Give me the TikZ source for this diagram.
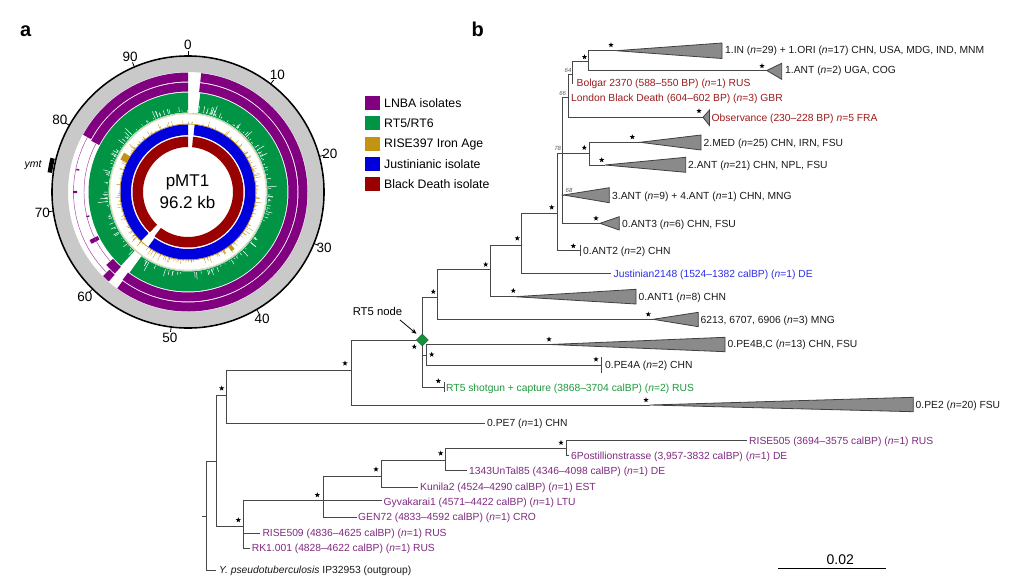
\documentclass[tikz,border=0pt]{standalone}
\usepackage{fontspec}
\setmainfont{Liberation Sans}
\usetikzlibrary{shapes.geometric,arrows.meta}
\definecolor{lnba}{HTML}{800080}
\definecolor{rtg}{HTML}{009444}
\definecolor{ironage}{HTML}{C39412}
\definecolor{just}{HTML}{0000DD}
\definecolor{bdc}{HTML}{990000}
\definecolor{ringgray}{HTML}{C9C9C9}
\definecolor{trigray}{HTML}{8A8A8A}
\definecolor{labred}{HTML}{9B1C1C}
\definecolor{labblue}{HTML}{2E2EE6}
\definecolor{labgreen}{HTML}{1F9A3E}
\definecolor{labpurp}{HTML}{7F2A7F}
\definecolor{rtdia}{HTML}{14903C}
\newcommand\nI{\textit{n}}
\newcommand\ringseg[5]{%
 \pgfmathsetmacro\aA{90-(#2)*3.742204}%
 \pgfmathsetmacro\aB{90-(#3)*3.742204}%
 \fill[#1] (\aA:#4) arc[start angle=\aA,end angle=\aB,radius=#4] -- (\aB:#5) arc[start angle=\aB,end angle=\aA,radius=#5] -- cycle;}
\newcommand\ringarc[4]{%
 \pgfmathsetmacro\aA{90-(#2)*3.742204}%
 \pgfmathsetmacro\aB{90-(#3)*3.742204}%
 \draw[#1] (\aA:#4) arc[start angle=\aA,end angle=\aB,radius=#4];}
\begin{document}
\begin{tikzpicture}[x=1pt,y=-1pt,
  br/.style={draw=black!72, line width=1pt},
  tri/.style={fill=trigray, draw=black!75, line width=0.8pt, line join=miter},
  lbl/.style={anchor=base west, inner sep=0pt, font=\fontsize{10.3}{12}\selectfont, yshift=-3.6pt, text=black!90},
  starmark/.style={star, star points=5, star point ratio=2.4, fill=black, inner sep=0pt, minimum size=5.5pt},
  boot/.style={inner sep=0pt, font=\fontsize{6}{7}\selectfont\itshape, text=black!65},
  legsq/.style={minimum width=15pt, minimum height=14pt, inner sep=0pt},
  leglbl/.style={anchor=base west, inner sep=0pt, font=\fontsize{12.3}{14}\selectfont, yshift=-4.4pt},
  panel/.style={anchor=base west, inner sep=0pt, font=\fontsize{20}{22}\selectfont\bfseries},
]
\fill[white] (0,0) rectangle (1020,581);
\useasboundingbox (0,0) rectangle (1020,581);

\node[panel] (pa) at (20,36.7) {a};
\node[panel] (pb) at (471.5,36.7) {b};

% ---------------- panel a: circular plot
\begin{scope}[shift={(188,192)}, y=1pt]
 \fill[ringgray, even odd rule] (0,0) circle[radius=135] (0,0) circle[radius=120];
 \draw[line width=1.6pt] (0,0) circle[radius=136];
 \foreach \k in {0,10,...,90} {
   \pgfmathsetmacro\ta{90-\k*3.742204}
   \draw[line width=0.8pt] (\ta:136) -- (\ta:141);
   \node[font=\fontsize{13.5}{15}\selectfont, inner sep=0pt] (tk\k) at (\ta:147) {\k};
 }
 % ymt marker
 \draw[line width=4.5pt] (166:139.5) arc[start angle=166, end angle=172, radius=139.5];
 % LNBA rings
 \ringseg{lnba}{1.7}{57.8}{110.5}{119.5}
 \ringseg{lnba}{59.2}{60.2}{110.5}{119.5}
 \ringseg{lnba}{79.8}{96.2}{110.5}{119.5}
 \ringseg{lnba}{1.7}{57.9}{100.5}{109.5}
 \ringseg{lnba}{59.3}{61.0}{100.5}{109.5}
 \ringseg{lnba}{64.6}{65.2}{100.5}{109.5}
 \ringseg{lnba}{79.6}{96.2}{100.5}{109.5}
 \ringarc{lnba!75, line width=0.45pt}{60.2}{79.8}{114.5}
 \ringarc{lnba!75, line width=0.45pt}{61.0}{79.6}{104}
 \ringseg{lnba}{72.0}{72.3}{111}{115}
 \ringseg{lnba}{68.4}{68.6}{101.5}{104.5}
 \ringseg{lnba}{75.1}{75.3}{111}{114}
 % RT5/RT6 ring
 \ringseg{rtg}{1.9}{57.7}{79.5}{99.5}
 \ringseg{rtg}{59.4}{96.2}{79.5}{99.5}
 \pgfmathsetseed{42}
 \foreach \i in {1,...,230} {
   \pgfmathsetmacro\ang{rnd*360}
   \pgfmathsetmacro\len{80.5+11*rnd*rnd}
   \draw[white, line width=0.5pt] (\ang:80.5) -- (\ang:\len);
 }
 \draw[rtg!55, line width=0.4pt] (0,0) circle[radius=78.8];
 % RISE397 histogram
 \draw[ironage!40, line width=0.5pt] (0,0) circle[radius=78];
 \foreach \i in {1,...,320} {
   \pgfmathsetmacro\ang{rnd*360}
   \pgfmathsetmacro\len{67.5+8.5*rnd*rnd}
   \draw[ironage, line width=0.32pt] (\ang:67.5) -- (\ang:\len);
 }
 \draw[ironage, line width=0.6pt] (0,0) circle[radius=68];
 \ringseg{ironage}{79.0}{80.6}{67.5}{75}
 \ringseg{ironage}{37.6}{38.4}{67.5}{73.5}
 % Justinianic ring
 \ringseg{just}{1.5}{57.7}{57}{67.5}
 \ringseg{just}{59.8}{96.2}{57}{67.5}
 % Black Death ring
 \ringseg{bdc}{1.4}{58.0}{45}{55.5}
 \ringseg{bdc}{59.7}{96.2}{45}{55.5}
\end{scope}
\node[anchor=base west, inner sep=0pt, font=\fontsize{10.5}{12}\selectfont\itshape] (ymt) at (24.5,167.5) {ymt};
\node[anchor=base, inner sep=0pt, font=\fontsize{17}{19}\selectfont] (pmt) at (187.5,186.7) {pMT1};
\node[anchor=base, inner sep=0pt, font=\fontsize{17}{19}\selectfont] (kb) at (187.5,208.3) {96.2 kb};

% legend
\node[legsq, fill=lnba] (lg1) at (372.5,103) {};
\node[leglbl] (lt1) at (384,103) {LNBA isolates};
\node[legsq, fill=rtg] (lg2) at (372.5,123.2) {};
\node[leglbl] (lt2) at (384,123.2) {RT5/RT6};
\node[legsq, fill=ironage] (lg3) at (372.5,143.5) {};
\node[leglbl] (lt3) at (384,143.5) {RISE397 Iron Age};
\node[legsq, fill=just] (lg4) at (372.5,163.7) {};
\node[leglbl] (lt4) at (384,163.7) {Justinianic isolate};
\node[legsq, fill=bdc] (lg5) at (372.5,183.9) {};
\node[leglbl] (lt5) at (384,183.9) {Black Death isolate};

% ---------------- panel b: tree
\coordinate (root) at (206,516);
\coordinate (rstub) at (202,516);
\coordinate (S) at (216,461.7);
\coordinate (outg) at (216,570);
\coordinate (T) at (226,395.7);
\coordinate (R) at (243.3,526);
\coordinate (U) at (351,370);
\coordinate (pe7) at (485,423.3);
\coordinate (RT) at (422.3,340);
\coordinate (pe2a) at (650,405);
\coordinate (V) at (437.3,297.3);
\coordinate (PE4) at (426.7,355);
\coordinate (rtsg) at (444,387.3);
\coordinate (W) at (490.7,269.3);
\coordinate (a6213) at (653,319.3);
\coordinate (Z) at (521.7,245);
\coordinate (ant1a) at (515,296.7);
\coordinate (Y) at (557.5,213);
\coordinate (jus) at (611,273.3);
\coordinate (X) at (562.3,153.3);
\coordinate (ant2) at (580,250);
\coordinate (N66) at (568,97);
\coordinate (MA) at (589,153.3);
\coordinate (a34) at (563.5,195);
\coordinate (a3) at (600,223.3);
\coordinate (N64) at (572,74);
\coordinate (obsa) at (703,117.3);
\coordinate (N1) at (588.5,61.5);
\coordinate (bolg) at (572,84);
\coordinate (inA) at (616,50.7);
\coordinate (antb) at (766.7,70.5);
\coordinate (med) at (640,142.3);
\coordinate (ant2a) at (605,165);
\coordinate (pe4bc) at (550,344.5);
\coordinate (pe4a) at (601.7,365);
\coordinate (Q) at (323.3,500.7);
\coordinate (r509) at (260,533.3);
\coordinate (rk1) at (250,548.3);
\coordinate (P) at (381.7,476);
\coordinate (gyv) at (381.7,500.7);
\coordinate (gen) at (356.7,517.3);
\coordinate (O) at (445.7,460);
\coordinate (kun) at (418.3,487.3);
\coordinate (NN) at (566,448.3);
\coordinate (unt) at (466.7,470.7);
\coordinate (r505) at (746.7,440.7);
\coordinate (post) at (569,455);

\draw[br] (rstub) -- (root);
\draw[br] (root) |- (S);
\draw[br] (root) |- (outg);
\draw[br] (S) |- (T);
\draw[br] (S) |- (R);
\draw[br] (T) |- (U);
\draw[br] (T) |- (pe7);
\draw[br] (U) |- (RT);
\draw[br] (U) |- (pe2a);
\draw[br] (RT) |- (V);
\draw[br] (RT) |- (PE4);
\draw[br] (RT) |- (rtsg);
\draw[br] (V) |- (W);
\draw[br] (V) |- (a6213);
\draw[br] (W) |- (Z);
\draw[br] (W) |- (ant1a);
\draw[br] (Z) |- (Y);
\draw[br] (Z) |- (jus);
\draw[br] (Y) |- (X);
\draw[br] (Y) |- (ant2);
\draw[br] (X) |- (N66);
\draw[br] (X) |- (MA);
\draw[br] (X) |- (a34);
\draw[br] (X) |- (a3);
\draw[br] (N66) |- (N64);
\draw[br] (N66) |- (obsa);
\draw[br] (N64) |- (N1);
\draw[br] (N64) |- (bolg);
\draw[br] (N1) |- (inA);
\draw[br] (N1) |- (antb);
\draw[br] (MA) |- (med);
\draw[br] (MA) |- (ant2a);
\draw[br] (PE4) |- (pe4bc);
\draw[br] (PE4) |- (pe4a);
\draw[br] (R) |- (Q);
\draw[br] (R) |- (r509);
\draw[br] (R) |- (rk1);
\draw[br] (Q) |- (P);
\draw[br] (Q) |- (gyv);
\draw[br] (Q) |- (gen);
\draw[br] (P) |- (O);
\draw[br] (P) |- (kun);
\draw[br] (O) |- (NN);
\draw[br] (O) |- (unt);
\draw[br] (NN) |- (r505);
\draw[br] (NN) |- (post);
% leaf ticks
\draw[br, line width=0.9pt] ([yshift=5.5pt]ant2) -- ([yshift=-5.5pt]ant2);
\draw[br, line width=0.9pt] ([yshift=8.3pt]pe4a) -- ([yshift=-8.3pt]pe4a);
\draw[br, line width=0.9pt] ([yshift=5pt]rtsg) -- ([yshift=-5pt]rtsg);

% collapsed clades
\filldraw[tri] (inA) -- (722,43) -- (722,58.5) -- cycle;
\filldraw[tri] (antb) -- (781.7,63.3) -- (781.7,79.3) -- cycle;
\filldraw[tri] (obsa) -- (709.5,110) -- (709.5,125.5) -- cycle;
\filldraw[tri] (med) -- (701,135) -- (701,150) -- cycle;
\filldraw[tri] (ant2a) -- (685.7,157.3) -- (685.7,172.3) -- cycle;
\filldraw[tri] (a34) -- (609.3,187.7) -- (609.3,202.7) -- cycle;
\filldraw[tri] (a3) -- (619.3,216.7) -- (619.3,230) -- cycle;
\filldraw[tri] (ant1a) -- (636,289.3) -- (636,304) -- cycle;
\filldraw[tri] (a6213) -- (698.3,312.3) -- (698.3,326.7) -- cycle;
\filldraw[tri] (pe4bc) -- (725,337.3) -- (725,351.7) -- cycle;
\filldraw[tri] (pe2a) -- (913.3,397.3) -- (913.3,411.7) -- cycle;

% RT5 node marker
\node[diamond, aspect=1, fill=rtdia, draw=rtdia!70!black, line width=0.4pt, inner sep=0pt, minimum size=12pt] (rt5d) at (RT) {};
\node[inner sep=0pt, font=\fontsize{11.3}{13}\selectfont] (rt5lab) at (377.5,311) {RT5 node};
\coordinate (arrs) at (400,320);
\coordinate (arrt) at (416.5,333.8);
\draw[-{Stealth[length=5.5pt,width=4.5pt]}, line width=0.8pt] (arrs) -- (arrt);

% labels
\node[lbl] (l1in) at (725,50) {1.IN (\nI=29) + 1.ORI (\nI=17) CHN, USA, MDG, IND, MNM};
\node[lbl] (l1ant) at (785,70) {1.ANT (\nI=2) UGA, COG};
\node[lbl, text=labred] (lbol) at (576.5,82.5) {Bolgar 2370 (588--550 BP) (\nI=1) RUS};
\node[lbl, text=labred] (llon) at (571,98.3) {London Black Death (604--602 BP) (\nI=3) GBR};
\node[lbl, text=labred] (lobs) at (711.5,117.5) {Observance (230--228 BP) \nI=5 FRA};
\node[lbl] (lmed) at (703.5,143) {2.MED (\nI=25) CHN, IRN, FSU};
\node[lbl] (l2ant) at (688,165) {2.ANT (\nI=21) CHN, NPL, FSU};
\node[lbl] (l34) at (612,195.5) {3.ANT (\nI=9) + 4.ANT (\nI=1) CHN, MNG};
\node[lbl] (l0a3) at (622,223.5) {0.ANT3 (\nI=6) CHN, FSU};
\node[lbl] (l0a2) at (583,250.5) {0.ANT2 (\nI=2) CHN};
\node[lbl, text=labblue] (ljus) at (613.5,273.5) {Justinian2148 (1524--1382 calBP) (\nI=1) DE};
\node[lbl] (l0a1) at (638.5,296.7) {0.ANT1 (\nI=8) CHN};
\node[lbl] (l6213) at (700.5,319.5) {6213, 6707, 6906 (\nI=3) MNG};
\node[lbl] (lpe4bc) at (727.5,344.3) {0.PE4B,C (\nI=13) CHN, FSU};
\node[lbl] (lpe4a) at (605,365) {0.PE4A (\nI=2) CHN};
\node[lbl, text=labgreen] (lrt5) at (446,387.5) {RT5 shotgun + capture (3868--3704 calBP) (\nI=2) RUS};
\node[lbl] (lpe2) at (915.5,405) {0.PE2 (\nI=20) FSU};
\node[lbl] (lpe7) at (487,423) {0.PE7 (\nI=1) CHN};
\node[lbl, text=labpurp] (l505) at (749,440.5) {RISE505 (3694--3575 calBP) (\nI=1) RUS};
\node[lbl, text=labpurp] (lpost) at (571,455.5) {6Postillionstrasse (3,957-3832 calBP) (\nI=1) DE};
\node[lbl, text=labpurp] (lunt) at (469,470.5) {1343UnTal85 (4346--4098 calBP) (\nI=1) DE};
\node[lbl, text=labpurp] (lkun) at (420,487) {Kunila2 (4524--4290 calBP) (\nI=1) EST};
\node[lbl, text=labpurp] (lgyv) at (383.5,501.7) {Gyvakarai1 (4571--4422 calBP) (\nI=1) LTU};
\node[lbl, text=labpurp] (lgen) at (358,517.3) {GEN72 (4833--4592 calBP) (\nI=1) CRO};
\node[lbl, text=labpurp] (l509) at (262.3,533.3) {RISE509 (4836--4625 calBP) (\nI=1) RUS};
\node[lbl, text=labpurp] (lrk1) at (251.7,548.3) {RK1.001 (4828--4622 calBP) (\nI=1) RUS};
\node[lbl] (lout) at (219,570) {\textit{Y. pseudotuberculosis} IP32953 (outgroup)};

% bootstrap values
\node[boot] (b64) at (568,70.3) {64};
\node[boot] (b66) at (562.7,93.7) {66};
\node[boot] (b78) at (557.7,148.7) {78};
\node[boot] (b68) at (569,190) {68};

% support stars
\node[starmark] (s1) at (611,45) {};
\node[starmark] (s2) at (584.5,57) {};
\node[starmark] (s3) at (762,66) {};
\node[starmark] (s4) at (699,111) {};
\node[starmark] (s5) at (632.3,137) {};
\node[starmark] (s6) at (584.3,147.7) {};
\node[starmark] (s7) at (601.7,160) {};
\node[starmark] (s8) at (596,218.3) {};
\node[starmark] (s9) at (573.3,246) {};
\node[starmark] (s10) at (551.7,207.3) {};
\node[starmark] (s11) at (517.3,238.3) {};
\node[starmark] (s12) at (485.7,264.5) {};
\node[starmark] (s13) at (513.3,290.7) {};
\node[starmark] (s14) at (648.3,314.3) {};
\node[starmark] (s15) at (433.3,291.7) {};
\node[starmark] (s16) at (549,339.3) {};
\node[starmark] (s17) at (414.3,346.7) {};
\node[starmark] (s18) at (431.7,354.5) {};
\node[starmark] (s19) at (596,359.3) {};
\node[starmark] (s20) at (438.3,381) {};
\node[starmark] (s21) at (345,363.3) {};
\node[starmark] (s22) at (646,400) {};
\node[starmark] (s23) at (221.7,388.3) {};
\node[starmark] (s24) at (238.3,520) {};
\node[starmark] (s25) at (317.3,495) {};
\node[starmark] (s26) at (376,469.3) {};
\node[starmark] (s27) at (440.7,453.3) {};
\node[starmark] (s28) at (561,442.7) {};

% scale bar
\coordinate (sb1) at (778.3,568.3);
\coordinate (sb2) at (885.7,568.3);
\draw[line width=1pt] (sb1) -- (sb2);
\node[anchor=base, inner sep=0pt, font=\fontsize{14}{16}\selectfont] (sbl) at (840.3,564) {0.02};
\end{tikzpicture}
\end{document}
